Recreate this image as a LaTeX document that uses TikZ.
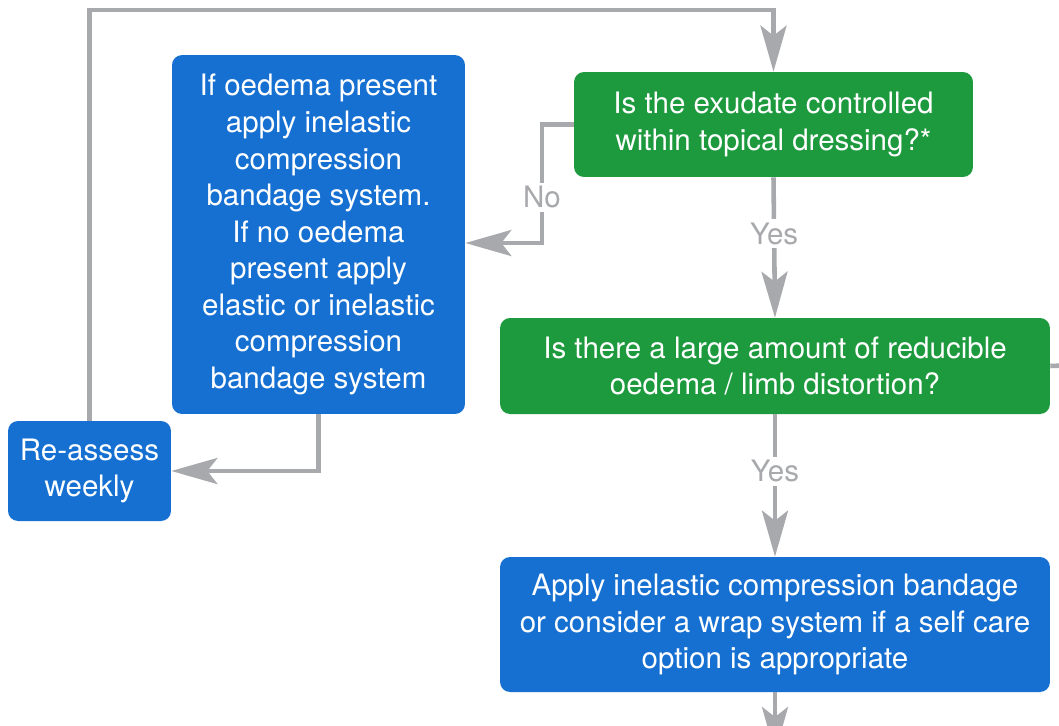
\documentclass[tikz,border=0pt]{standalone}
\usepackage{fontspec}
\setmainfont{TeX Gyre Heros}
\usetikzlibrary{arrows.meta}
\definecolor{boxblue}{RGB}{22,112,210}
\definecolor{boxgreen}{RGB}{30,154,62}
\definecolor{linegray}{RGB}{167,169,172}
\tikzset{
  bluebox/.style={fill=boxblue, rounded corners=0.2cm, text=white, align=center, inner sep=0pt, font=\fontsize{16.8}{20.8}\selectfont},
  greenbox/.style={bluebox, fill=boxgreen},
  flow/.style={draw=linegray, line width=2.6pt, -{Stealth[length=0.92cm,width=0.52cm,inset=0.2cm]}},
  answer/.style={text=linegray, fill=white, inner sep=2pt, font=\fontsize{16.8}{20.8}\selectfont}
}
\begin{document}
\begin{tikzpicture}[x=0.02cm,y=-0.02cm]
    \useasboundingbox (0,0) rectangle (1059,725);
    \node[greenbox, minimum width=7.98cm, minimum height=2.1cm] (exudate) at (773.5,124.5) {Is the exudate controlled\\within topical dressing?*};
    \node[greenbox, minimum width=11cm, minimum height=1.92cm] (oedemaq) at (775,366) {Is there a large amount of reducible\\oedema / limb distortion?};
    \node[bluebox, minimum width=11cm, minimum height=2.7cm] (apply) at (775,624.5) {Apply inelastic compression bandage\\or consider a wrap system if a self care\\option is appropriate};
    \node[bluebox, minimum width=5.86cm, minimum height=7.18cm] (inelastic) at (318.5,234.5) {If oedema present\\apply inelastic\\compression\\bandage system.\\If no oedema\\present apply\\elastic or inelastic\\compression\\bandage system};
    \node[bluebox, minimum width=3.26cm, minimum height=2cm] (reassess) at (89.5,471) {Re-assess\\weekly};
    \coordinate (loop) at (400,10);
    \coordinate (nobend) at (542,243);
    \coordinate (exitright) at (1075,365);
    \coordinate (exitdown) at (775,753);
    \draw[flow] (reassess.north) |- (loop) -| (exudate.north);
    \draw[flow] (exudate.west) -| (nobend) -- (nobend -| inelastic.east);
    \node[answer] (no) at (542,197) {No};
    \draw[flow] (exudate.south) -- node[answer, pos=0.4] (yes1) {Yes} (oedemaq.north);
    \draw[flow] (oedemaq.south) -- node[answer, pos=0.4] (yes2) {Yes} (apply.north);
    \draw[flow] (apply.south) -- (exitdown);
    \draw[flow, -] (oedemaq.east) -- (exitright);
    \draw[flow] (inelastic.south) |- (reassess.east);
\end{tikzpicture}
\end{document}
